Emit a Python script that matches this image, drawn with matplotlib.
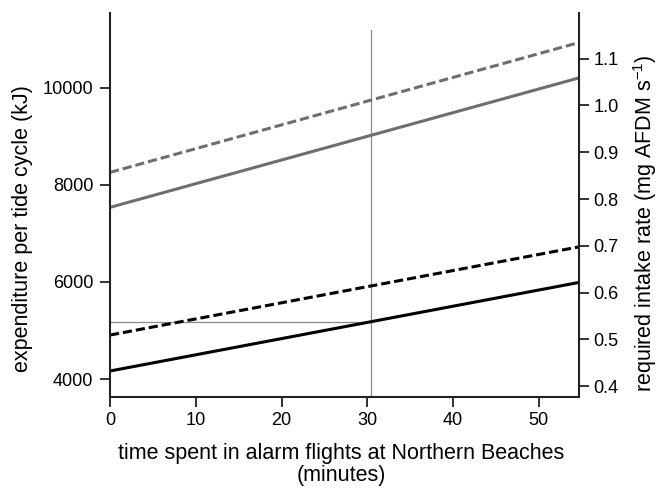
import numpy as np
import matplotlib.pyplot as plt

plt.rcParams['font.family'] = ['Liberation Sans', 'DejaVu Sans']

# minutes spent in alarm flights (line end points)
minutes = [0, 54.7]

# energy expenditure per tide cycle (kJ)
grey_solid = [7533, 10198]
grey_dashed = [8253, 10926]
black_solid = [4165, 5988]
black_dashed = [4905, 6720]

# reference lines
ref_minutes = 30.4
ref_kj = 5175
ref_top = 11194

kj_per_intake = 9630  # kJ per (mg AFDM s-1)

x_ticks = [0, 10, 20, 30, 40, 50]
left_ticks = [4000, 6000, 8000, 10000]
right_ticks = [0.4, 0.5, 0.6, 0.7, 0.8, 0.9, 1.0, 1.1]

tick_fs = 13.1
label_fs = 15.5
grey = "#6e6e6e"
thin = "#8a8a8a"

fig = plt.figure(figsize=(6.6, 4.88), dpi=100)
ax = fig.add_axes([0.1667, 0.1865, 0.7106, 0.7865])
ylim = (3630, 11530)

ax.plot([ref_minutes, ref_minutes], [ylim[0], ref_top], color=thin, lw=0.9, zorder=1)
ax.plot([0, ref_minutes], [ref_kj, ref_kj], color=thin, lw=0.9, zorder=1)

ax.plot(minutes, grey_solid, color=grey, lw=2.2, solid_capstyle="butt")
ax.plot(minutes, grey_dashed, color=grey, lw=2.2, dashes=(3, 1.3))
ax.plot(minutes, black_solid, color="black", lw=2.2, solid_capstyle="butt")
ax.plot(minutes, black_dashed, color="black", lw=2.2, dashes=(3, 1.3))

ax.set_xlim(0, 54.7)
ax.set_ylim(*ylim)
ax.set_xticks(x_ticks)
ax.set_yticks(left_ticks)

ax2 = ax.twinx()
ax2.set_ylim(ylim[0] / kj_per_intake, ylim[1] / kj_per_intake)
ax2.set_yticks(right_ticks)
ax2.set_yticklabels([f"{v:.1f}" for v in right_ticks])

for a in (ax, ax2):
    a.spines['top'].set_visible(False)
    for s in a.spines.values():
        s.set_linewidth(1.5)
        s.set_color("#222222")
    a.tick_params(direction="out", length=7, width=1.3, labelsize=tick_fs, color="#222222")
ax.tick_params(axis="x", pad=3.5)
ax.tick_params(axis="y", pad=5)
ax2.tick_params(axis="y", pad=3.5)
ax.spines['right'].set_visible(False)
ax2.spines['left'].set_visible(False)
ax2.spines['bottom'].set_visible(False)

ax.set_xlabel("time spent in alarm flights at Northern Beaches\n(minutes)", fontsize=label_fs,
              linespacing=1.08)
ax.xaxis.set_label_coords(0.493, -0.12)
ax.set_ylabel("expenditure per tide cycle (kJ)", fontsize=label_fs)
ax.yaxis.set_label_coords(-0.164, 0.44)
ax2.set_ylabel("required intake rate (mg AFDM s$^{\\mathregular{-1}}$)", fontsize=label_fs)
ax2.yaxis.set_label_coords(1.111, 0.453)

fig.savefig("out.png", dpi=100)
